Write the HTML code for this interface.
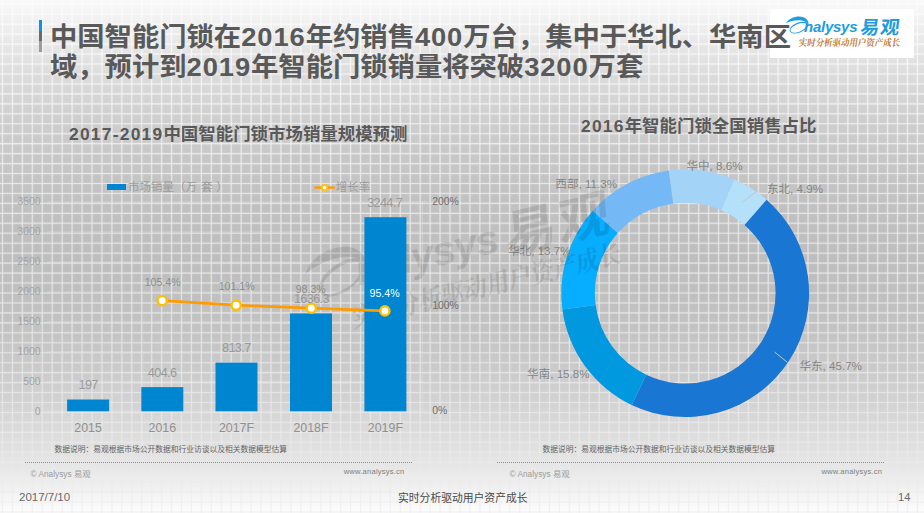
<!DOCTYPE html>
<html lang="zh-CN"><head><meta charset="utf-8"><title>中国智能门锁市场销量</title>
<style>
html,body{margin:0;padding:0}
body{width:924px;height:513px;overflow:hidden;position:relative;font-family:"Liberation Sans","Noto Sans CJK SC",sans-serif;
background:linear-gradient(to bottom,#f9f9f9 0px,#f6f6f6 9px,#e9e9e9 39px,#dedede 69px,#d1d1d1 109px,#c7c7c7 158px,#c1c1c1 208px,#bebebe 258px,#c0c0c0 298px,#c3c3c3 328px,#cacaca 367px,#d4d4d4 407px,#dddddd 437px,#e7e7e7 467px,#f0f0f0 487px,#fafafa 507px,#fcfcfc 513px)}
.abs{position:absolute;left:0;top:0}
.t{position:absolute;white-space:nowrap;line-height:1}
.c{letter-spacing:0}
.dot{height:0;border-top:1px dotted #8f8f8f}
</style></head><body>
<svg class="abs" width="924" height="513" viewBox="0 0 924 513" aria-hidden="true"><defs><linearGradient id="lgr" gradientUnits="userSpaceOnUse" x1="0" y1="0" x2="0" y2="513"><stop offset="0.0000" stop-color="#fcfcfc"/><stop offset="0.1170" stop-color="#f7f7f7"/><stop offset="0.2125" stop-color="#f2f2f2"/><stop offset="0.3899" stop-color="#e9e9e9"/><stop offset="0.5029" stop-color="#e7e7e7"/><stop offset="0.6433" stop-color="#e6e6e6"/><stop offset="0.7934" stop-color="#e7e7e7"/><stop offset="0.9103" stop-color="#e9e9e9"/><stop offset="0.9883" stop-color="#efefef"/><stop offset="1.0000" stop-color="#f0f0f0"/></linearGradient></defs><g fill="none" stroke="url(#lgr)" stroke-opacity=".22" stroke-width="2.2"><path d="M2.50 0V513"/><path d="M12.45 0V513"/><path d="M22.39 0V513"/><path d="M32.34 0V513"/><path d="M42.28 0V513"/><path d="M52.23 0V513"/><path d="M62.17 0V513"/><path d="M72.12 0V513"/><path d="M82.06 0V513"/><path d="M92.00 0V513"/><path d="M101.95 0V513"/><path d="M111.89 0V513"/><path d="M121.84 0V513"/><path d="M131.78 0V513"/><path d="M141.73 0V513"/><path d="M151.67 0V513"/><path d="M161.62 0V513"/><path d="M171.56 0V513"/><path d="M181.51 0V513"/><path d="M191.45 0V513"/><path d="M201.40 0V513"/><path d="M211.34 0V513"/><path d="M221.29 0V513"/><path d="M231.23 0V513"/><path d="M241.18 0V513"/><path d="M251.12 0V513"/><path d="M261.07 0V513"/><path d="M271.01 0V513"/><path d="M280.96 0V513"/><path d="M290.90 0V513"/><path d="M300.85 0V513"/><path d="M310.79 0V513"/><path d="M320.74 0V513"/><path d="M330.68 0V513"/><path d="M340.63 0V513"/><path d="M350.57 0V513"/><path d="M360.52 0V513"/><path d="M370.46 0V513"/><path d="M380.41 0V513"/><path d="M390.35 0V513"/><path d="M400.30 0V513"/><path d="M410.24 0V513"/><path d="M420.19 0V513"/><path d="M430.13 0V513"/><path d="M440.08 0V513"/><path d="M450.02 0V513"/><path d="M459.97 0V513"/><path d="M469.91 0V513"/><path d="M479.86 0V513"/><path d="M489.80 0V513"/><path d="M499.75 0V513"/><path d="M509.69 0V513"/><path d="M519.64 0V513"/><path d="M529.58 0V513"/><path d="M539.53 0V513"/><path d="M549.47 0V513"/><path d="M559.42 0V513"/><path d="M569.37 0V513"/><path d="M579.31 0V513"/><path d="M589.26 0V513"/><path d="M599.20 0V513"/><path d="M609.15 0V513"/><path d="M619.09 0V513"/><path d="M629.04 0V513"/><path d="M638.98 0V513"/><path d="M648.93 0V513"/><path d="M658.87 0V513"/><path d="M668.82 0V513"/><path d="M678.76 0V513"/><path d="M688.71 0V513"/><path d="M698.65 0V513"/><path d="M708.60 0V513"/><path d="M718.54 0V513"/><path d="M728.49 0V513"/><path d="M738.43 0V513"/><path d="M748.38 0V513"/><path d="M758.32 0V513"/><path d="M768.27 0V513"/><path d="M778.21 0V513"/><path d="M788.16 0V513"/><path d="M798.10 0V513"/><path d="M808.05 0V513"/><path d="M817.99 0V513"/><path d="M827.94 0V513"/><path d="M837.88 0V513"/><path d="M847.83 0V513"/><path d="M857.77 0V513"/><path d="M867.72 0V513"/><path d="M877.66 0V513"/><path d="M887.61 0V513"/><path d="M897.55 0V513"/><path d="M907.50 0V513"/><path d="M917.44 0V513"/><path d="M0 4.30H924"/><path d="M0 14.25H924"/><path d="M0 24.21H924"/><path d="M0 34.16H924"/><path d="M0 44.12H924"/><path d="M0 54.07H924"/><path d="M0 64.03H924"/><path d="M0 73.98H924"/><path d="M0 83.94H924"/><path d="M0 93.89H924"/><path d="M0 103.85H924"/><path d="M0 113.80H924"/><path d="M0 123.76H924"/><path d="M0 133.72H924"/><path d="M0 143.67H924"/><path d="M0 153.63H924"/><path d="M0 163.58H924"/><path d="M0 173.54H924"/><path d="M0 183.49H924"/><path d="M0 193.45H924"/><path d="M0 203.40H924"/><path d="M0 213.36H924"/><path d="M0 223.31H924"/><path d="M0 233.27H924"/><path d="M0 243.22H924"/><path d="M0 253.18H924"/><path d="M0 263.13H924"/><path d="M0 273.09H924"/><path d="M0 283.04H924"/><path d="M0 293.00H924"/><path d="M0 302.95H924"/><path d="M0 312.91H924"/><path d="M0 322.86H924"/><path d="M0 332.82H924"/><path d="M0 342.77H924"/><path d="M0 352.73H924"/><path d="M0 362.68H924"/><path d="M0 372.63H924"/><path d="M0 382.59H924"/><path d="M0 392.54H924"/><path d="M0 402.50H924"/><path d="M0 412.45H924"/><path d="M0 422.41H924"/><path d="M0 432.36H924"/><path d="M0 442.32H924"/><path d="M0 452.27H924"/><path d="M0 462.23H924"/><path d="M0 472.18H924"/><path d="M0 482.14H924"/><path d="M0 492.09H924"/><path d="M0 502.05H924"/><path d="M0 512.00H924"/></g><g fill="none" stroke="url(#lgr)" stroke-opacity=".85" stroke-width="1.1"><path d="M2.50 0V513"/><path d="M12.45 0V513"/><path d="M22.39 0V513"/><path d="M32.34 0V513"/><path d="M42.28 0V513"/><path d="M52.23 0V513"/><path d="M62.17 0V513"/><path d="M72.12 0V513"/><path d="M82.06 0V513"/><path d="M92.00 0V513"/><path d="M101.95 0V513"/><path d="M111.89 0V513"/><path d="M121.84 0V513"/><path d="M131.78 0V513"/><path d="M141.73 0V513"/><path d="M151.67 0V513"/><path d="M161.62 0V513"/><path d="M171.56 0V513"/><path d="M181.51 0V513"/><path d="M191.45 0V513"/><path d="M201.40 0V513"/><path d="M211.34 0V513"/><path d="M221.29 0V513"/><path d="M231.23 0V513"/><path d="M241.18 0V513"/><path d="M251.12 0V513"/><path d="M261.07 0V513"/><path d="M271.01 0V513"/><path d="M280.96 0V513"/><path d="M290.90 0V513"/><path d="M300.85 0V513"/><path d="M310.79 0V513"/><path d="M320.74 0V513"/><path d="M330.68 0V513"/><path d="M340.63 0V513"/><path d="M350.57 0V513"/><path d="M360.52 0V513"/><path d="M370.46 0V513"/><path d="M380.41 0V513"/><path d="M390.35 0V513"/><path d="M400.30 0V513"/><path d="M410.24 0V513"/><path d="M420.19 0V513"/><path d="M430.13 0V513"/><path d="M440.08 0V513"/><path d="M450.02 0V513"/><path d="M459.97 0V513"/><path d="M469.91 0V513"/><path d="M479.86 0V513"/><path d="M489.80 0V513"/><path d="M499.75 0V513"/><path d="M509.69 0V513"/><path d="M519.64 0V513"/><path d="M529.58 0V513"/><path d="M539.53 0V513"/><path d="M549.47 0V513"/><path d="M559.42 0V513"/><path d="M569.37 0V513"/><path d="M579.31 0V513"/><path d="M589.26 0V513"/><path d="M599.20 0V513"/><path d="M609.15 0V513"/><path d="M619.09 0V513"/><path d="M629.04 0V513"/><path d="M638.98 0V513"/><path d="M648.93 0V513"/><path d="M658.87 0V513"/><path d="M668.82 0V513"/><path d="M678.76 0V513"/><path d="M688.71 0V513"/><path d="M698.65 0V513"/><path d="M708.60 0V513"/><path d="M718.54 0V513"/><path d="M728.49 0V513"/><path d="M738.43 0V513"/><path d="M748.38 0V513"/><path d="M758.32 0V513"/><path d="M768.27 0V513"/><path d="M778.21 0V513"/><path d="M788.16 0V513"/><path d="M798.10 0V513"/><path d="M808.05 0V513"/><path d="M817.99 0V513"/><path d="M827.94 0V513"/><path d="M837.88 0V513"/><path d="M847.83 0V513"/><path d="M857.77 0V513"/><path d="M867.72 0V513"/><path d="M877.66 0V513"/><path d="M887.61 0V513"/><path d="M897.55 0V513"/><path d="M907.50 0V513"/><path d="M917.44 0V513"/><path d="M0 4.30H924"/><path d="M0 14.25H924"/><path d="M0 24.21H924"/><path d="M0 34.16H924"/><path d="M0 44.12H924"/><path d="M0 54.07H924"/><path d="M0 64.03H924"/><path d="M0 73.98H924"/><path d="M0 83.94H924"/><path d="M0 93.89H924"/><path d="M0 103.85H924"/><path d="M0 113.80H924"/><path d="M0 123.76H924"/><path d="M0 133.72H924"/><path d="M0 143.67H924"/><path d="M0 153.63H924"/><path d="M0 163.58H924"/><path d="M0 173.54H924"/><path d="M0 183.49H924"/><path d="M0 193.45H924"/><path d="M0 203.40H924"/><path d="M0 213.36H924"/><path d="M0 223.31H924"/><path d="M0 233.27H924"/><path d="M0 243.22H924"/><path d="M0 253.18H924"/><path d="M0 263.13H924"/><path d="M0 273.09H924"/><path d="M0 283.04H924"/><path d="M0 293.00H924"/><path d="M0 302.95H924"/><path d="M0 312.91H924"/><path d="M0 322.86H924"/><path d="M0 332.82H924"/><path d="M0 342.77H924"/><path d="M0 352.73H924"/><path d="M0 362.68H924"/><path d="M0 372.63H924"/><path d="M0 382.59H924"/><path d="M0 392.54H924"/><path d="M0 402.50H924"/><path d="M0 412.45H924"/><path d="M0 422.41H924"/><path d="M0 432.36H924"/><path d="M0 442.32H924"/><path d="M0 452.27H924"/><path d="M0 462.23H924"/><path d="M0 472.18H924"/><path d="M0 482.14H924"/><path d="M0 492.09H924"/><path d="M0 502.05H924"/><path d="M0 512.00H924"/></g></svg>
<div class="abs" style="left:770px;top:9px;width:144px;height:49px;background:#fff"></div>
<div class="abs" style="left:39px;top:20px;width:3px;height:32px;background:linear-gradient(#0a93e2 0,#0a93e2 34%,#6a6a6a 34%,#6a6a6a 65%,#9c9c9c 65%)"></div>
<div class="t" style="top:24.28px;font-size:26.6px;color:#595959;left:50.20px;transform:scaleX(1.027);transform-origin:0 50%;font-weight:bold;letter-spacing:0.9px;"><span class="c">中国智能门锁在</span>2016<span class="c">年约销售</span>400<span class="c">万台，集中于华北、华南区</span></div>
<div class="t" style="top:53.78px;font-size:26.6px;color:#595959;left:50.20px;transform:scaleX(1.027);transform-origin:0 50%;font-weight:bold;letter-spacing:0.9px;"><span class="c">域，预计到</span>2019<span class="c">年智能门锁销量将突破</span>3200<span class="c">万套</span></div>
<svg class="abs" style="left:770px;top:9px;fill:#1e9ce0;stroke:#1e9ce0;stroke-width:0" width="144" height="49" viewBox="770 9 144 49" role="img" aria-label="Analysys 易观 实时分析驱动用户资产成长">
<g id="lg">
<path d="M785.9 23.3C789.4 17.4 797.6 15.2 803.4 17.2 807 18.5 809 21.6 808.7 25.8 807.4 22.6 805 21 801.4 20.5 796.4 19.8 790.4 21 785.9 23.3Z"/>
<path fill-rule="evenodd" d="M789.71 31.23A9.7 4.9 -22 1 1 807.69 23.97A9.7 4.9 -22 1 1 789.71 31.23ZM790.59 31.07A8.65 3.85 -22 1 0 806.63 24.59A8.65 3.85 -22 1 0 790.59 31.07Z"/>
<text x="804" y="31.9" font-family="Liberation Sans, sans-serif" font-style="italic" font-weight="bold" font-size="15" letter-spacing="-.25">nalysys</text>
<g transform="translate(861.6 18.9) scale(.0191 .0186) skewX(-8)"><text x="0" y="800" font-size="1000" font-weight="bold" letter-spacing="50" font-family="'Liberation Sans','Noto Sans CJK SC',sans-serif">易观</text></g>
</g>
</svg>
<svg class="abs" style="left:770px;top:9px;fill:#c27a35;stroke:#c27a35;stroke-width:0" width="144" height="49" viewBox="770 9 144 49" aria-hidden="true"><g id="tg" transform="translate(799.6 37.9) scale(.00845 .0096) skewX(-10)"><text x="0" y="880" font-size="1000" font-weight="bold" font-family="'Liberation Serif','Noto Serif CJK SC',serif">实时分析驱动用户资产成长</text></g></svg>
<div class="t" style="top:117.92px;font-size:17.1px;color:#595959;left:581.00px;transform:scaleX(1.02);transform-origin:0 50%;font-weight:bold;letter-spacing:1.2px;">2016<span class="c">年智能门锁全国销售占比</span></div>
<svg class="abs" width="924" height="513" viewBox="0 0 924 513" aria-hidden="true"><path d="M734.41 179.49A123.9 123.9 0 0 1 766.55 199.75L744.52 225.05A90.35 90.35 0 0 0 721.08 210.28Z" fill="#b5e0f9"/><path d="M766.55 199.75A123.9 123.9 0 0 1 631.74 404.97L646.22 374.71A90.35 90.35 0 0 0 744.52 225.05Z" fill="#1976d2"/><path d="M631.74 404.97A123.9 123.9 0 0 1 562.38 309.50L595.64 305.09A90.35 90.35 0 0 0 646.22 374.71Z" fill="#0099e0"/><path d="M562.38 309.50A123.9 123.9 0 0 1 592.78 210.68L617.80 233.03A90.35 90.35 0 0 0 595.64 305.09Z" fill="#07adff"/><path d="M592.78 210.68A123.9 123.9 0 0 1 668.90 170.38L673.31 203.64A90.35 90.35 0 0 0 617.80 233.03Z" fill="#74b9f5"/><path d="M668.90 170.38A123.9 123.9 0 0 1 734.41 179.49L721.08 210.28A90.35 90.35 0 0 0 673.31 203.64Z" fill="#a4d3f8"/><path d="M742.1 202.3L756.1 191.8M774.6 352.1L787.4 362.3" stroke="#c2c6ca" stroke-width="1" fill="none"/></svg>
<div class="t" style="top:159.68px;font-size:11.6px;color:#858585;left:686.40px;">华中, 8.6%</div>
<div class="t" style="top:183.38px;font-size:11.6px;color:#858585;left:766.90px;">东北, 4.9%</div>
<div class="t" style="top:178.28px;font-size:11.6px;color:#858585;left:555.30px;">西部, 11.3%</div>
<div class="t" style="top:245.38px;font-size:11.6px;color:#858585;left:508.00px;">华北, 13.7%</div>
<div class="t" style="top:368.28px;font-size:11.6px;color:#858585;left:527.00px;">华南, 15.8%</div>
<div class="t" style="top:360.08px;font-size:11.6px;color:#858585;left:799.40px;">华东, 45.7%</div>
<svg class="abs" width="924" height="513" viewBox="0 0 924 513" aria-hidden="true" style="opacity:.1">
<g transform="translate(337.5 272.6) rotate(-13.6) scale(2.73) translate(-797.5 -25.5)" fill="#000" stroke="#000" stroke-width="0"><use href="#lg"/><g stroke="none"><use href="#tg"/></g></g></svg>
<div class="t" style="top:125.52px;font-size:17.1px;color:#595959;left:68.50px;transform:scaleX(1.02);transform-origin:0 50%;font-weight:bold;letter-spacing:1.2px;">2017-2019<span class="c">中国智能门锁市场销量规模预测</span></div>
<div class="abs" style="left:107px;top:184.3px;width:19px;height:6px;background:#0086d0"></div>
<div class="t" style="top:182.47px;font-size:11.5px;color:#9c9c9c;left:128.00px;">市场销量（万</div>
<div class="t" style="top:182.47px;font-size:11.5px;color:#9c9c9c;left:201.00px;">套</div>
<div class="t" style="top:182.47px;font-size:11.5px;color:#9c9c9c;left:216.30px;">）</div>
<div class="t" style="top:182.47px;font-size:11.5px;color:#9c9c9c;left:335.80px;">增长率</div>
<svg class="abs" width="924" height="513" viewBox="0 0 924 513" aria-hidden="true"><path d="M47 411.3H422" stroke="#fff" stroke-opacity=".18" stroke-width="1"/><path d="M47 381.4H422" stroke="#fff" stroke-opacity=".18" stroke-width="1"/><path d="M47 351.5H422" stroke="#fff" stroke-opacity=".18" stroke-width="1"/><path d="M47 321.6H422" stroke="#fff" stroke-opacity=".18" stroke-width="1"/><path d="M47 291.7H422" stroke="#fff" stroke-opacity=".18" stroke-width="1"/><path d="M47 261.8H422" stroke="#fff" stroke-opacity=".18" stroke-width="1"/><path d="M47 231.8H422" stroke="#fff" stroke-opacity=".18" stroke-width="1"/><path d="M47 201.9H422" stroke="#fff" stroke-opacity=".18" stroke-width="1"/><path d="M422.5 201.5V411.5M422.5 201.5h4M422.5 411.5h4M422.5 306.5h4" stroke="#e0e0e0" stroke-opacity=".45" stroke-width="1" fill="none"/><rect x="67.1" y="399.5" width="42.0" height="11.8" fill="#0086d0"/><rect x="141.3" y="387.1" width="42.0" height="24.2" fill="#0086d0"/><rect x="215.5" y="362.6" width="42.0" height="48.7" fill="#0086d0"/><rect x="290.0" y="313.4" width="42.0" height="97.9" fill="#0086d0"/><rect x="364.4" y="217.2" width="42.0" height="194.1" fill="#0086d0"/><path d="M162.2 300.7L236.2 305.2L311.3 308.2L384.9 310.9" stroke="#ff9a00" stroke-width="2.7" fill="none"/><path d="M314.4 187.6H334.8" stroke="#ff9a00" stroke-width="2.4"/><circle cx="162.2" cy="300.7" r="4.6" fill="#fff" stroke="#ffc000" stroke-width="2.4"/><circle cx="236.2" cy="305.2" r="4.6" fill="#fff" stroke="#ffc000" stroke-width="2.4"/><circle cx="311.3" cy="308.2" r="4.6" fill="#fff" stroke="#ffc000" stroke-width="2.4"/><circle cx="384.9" cy="310.9" r="4.6" fill="#fff" stroke="#ffc000" stroke-width="2.4"/><circle cx="324.5" cy="187.6" r="2.7" fill="#fff" stroke="#ffc000" stroke-width="1.7"/></svg>
<div class="t" style="top:406.80px;font-size:10.4px;color:#a4a4a4;right:883.50px;">0</div>
<div class="t" style="top:376.89px;font-size:10.4px;color:#a4a4a4;right:883.50px;">500</div>
<div class="t" style="top:346.98px;font-size:10.4px;color:#a4a4a4;right:883.50px;">1000</div>
<div class="t" style="top:317.07px;font-size:10.4px;color:#a4a4a4;right:883.50px;">1500</div>
<div class="t" style="top:287.16px;font-size:10.4px;color:#a4a4a4;right:883.50px;">2000</div>
<div class="t" style="top:257.25px;font-size:10.4px;color:#a4a4a4;right:883.50px;">2500</div>
<div class="t" style="top:227.34px;font-size:10.4px;color:#a4a4a4;right:883.50px;">3000</div>
<div class="t" style="top:197.43px;font-size:10.4px;color:#a4a4a4;right:883.50px;">3500</div>
<div class="t" style="top:196.50px;font-size:10.4px;color:#6e6e6e;left:432.20px;">200%</div>
<div class="t" style="top:301.10px;font-size:10.4px;color:#6e6e6e;left:432.20px;">100%</div>
<div class="t" style="top:406.00px;font-size:10.4px;color:#6e6e6e;left:432.20px;">0%</div>
<div class="t" style="top:421.50px;font-size:12.4px;color:#909090;left:88.10px;transform:translateX(-50%);transform-origin:50% 50%;">2015</div>
<div class="t" style="top:421.50px;font-size:12.4px;color:#909090;left:162.30px;transform:translateX(-50%);transform-origin:50% 50%;">2016</div>
<div class="t" style="top:421.50px;font-size:12.4px;color:#909090;left:236.50px;transform:translateX(-50%);transform-origin:50% 50%;">2017F</div>
<div class="t" style="top:421.50px;font-size:12.4px;color:#909090;left:311.00px;transform:translateX(-50%);transform-origin:50% 50%;">2018F</div>
<div class="t" style="top:421.50px;font-size:12.4px;color:#909090;left:385.40px;transform:translateX(-50%);transform-origin:50% 50%;">2019F</div>
<div class="t" style="top:379.13px;font-size:12.6px;color:#999;left:88.10px;transform:translateX(-50%);transform-origin:50% 50%;letter-spacing:-0.6px;">197</div>
<div class="t" style="top:366.53px;font-size:12.6px;color:#999;left:162.10px;transform:translateX(-50%);transform-origin:50% 50%;letter-spacing:-0.6px;">404.6</div>
<div class="t" style="top:342.13px;font-size:12.6px;color:#999;left:236.30px;transform:translateX(-50%);transform-origin:50% 50%;letter-spacing:-0.6px;">813.7</div>
<div class="t" style="top:293.43px;font-size:12.6px;color:#999;left:311.40px;transform:translateX(-50%);transform-origin:50% 50%;letter-spacing:-0.6px;">1636.3</div>
<div class="t" style="top:197.13px;font-size:12.6px;color:#999;left:384.60px;transform:translateX(-50%);transform-origin:50% 50%;letter-spacing:-0.6px;">3244.7</div>
<div class="t" style="top:276.83px;font-size:10.6px;color:#8c8c8c;left:162.60px;transform:translateX(-50%);transform-origin:50% 50%;">105.4%</div>
<div class="t" style="top:281.03px;font-size:10.6px;color:#8c8c8c;left:236.60px;transform:translateX(-50%);transform-origin:50% 50%;">101.1%</div>
<div class="t" style="top:283.63px;font-size:10.6px;color:#8c8c8c;left:310.70px;transform:translateX(-50%);transform-origin:50% 50%;">98.3%</div>
<div class="t" style="top:288.03px;font-size:10.6px;color:#fff;left:384.60px;transform:translateX(-50%);transform-origin:50% 50%;">95.4%</div>
<div class="t" style="top:446.14px;font-size:7.75px;color:#646464;left:54.50px;">数据说明：易观根据市场公开数据和行业访谈以及相关数据模型估算</div>
<div class="t" style="top:446.14px;font-size:7.75px;color:#646464;left:542.50px;">数据说明：易观根据市场公开数据和行业访谈以及相关数据模型估算</div>
<div class="abs dot" style="left:25px;top:462px;width:387px"></div>
<div class="abs dot" style="left:497px;top:462px;width:387px"></div>
<div class="t" style="top:469.57px;font-size:8.3px;color:#9c9c9c;left:30.50px;">© Analysys 易观</div>
<div class="t" style="top:469.57px;font-size:8.3px;color:#9c9c9c;left:509.50px;">© Analysys 易观</div>
<div class="t" style="top:467.57px;font-size:7.6px;color:#808080;right:519.50px;letter-spacing:0.2px;">www.analysys.cn</div>
<div class="t" style="top:467.57px;font-size:7.6px;color:#808080;right:41.80px;letter-spacing:0.2px;">www.analysys.cn</div>
<div class="t" style="top:492.47px;font-size:11.5px;color:#6a6a6a;left:19.00px;">2017/7/10</div>
<div class="t" style="top:492.66px;font-size:10.8px;color:#4a4a4a;left:398.00px;">实时分析驱动用户资产成长</div>
<div class="t" style="top:492.32px;font-size:11.2px;color:#6a6a6a;right:13.60px;">14</div>
</body></html>
